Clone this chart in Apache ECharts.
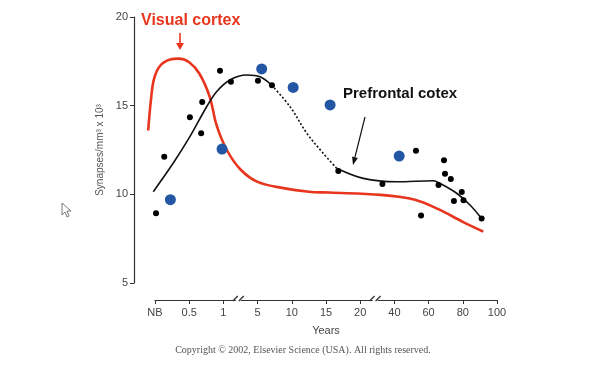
<!DOCTYPE html>
<html>
<head>
<meta charset="utf-8">
<script src="https://cdn.jsdelivr.net/npm/echarts@6/dist/echarts.min.js"></script>
<style>
  html, body { margin: 0; padding: 0; background: #fff; }
  #main { width: 606px; height: 376px; }
</style>
</head>
<body>
<div id="main"></div>
<script>
// x axis is an ordinal age scale, drawn as positions 0..10
var ageLabels = ['NB', '0.5', '1', '5', '10', '15', '20', '40', '60', '80', '100']
var axisBreaks = [2.45, 6.45]

// small black points (prefrontal cortex)
var blackDots = [
  [0.03, 8.93], [0.27, 12.12], [1.02, 14.34], [1.35, 13.44], [1.38, 15.2],
  [1.9, 16.97], [2.22, 16.35], [3.01, 16.41], [3.42, 16.15],
  [5.36, 11.31], [6.65, 10.58], [7.63, 12.46], [8.45, 11.92], [8.48, 11.16],
  [8.65, 10.86], [8.29, 10.52], [8.97, 10.13], [8.74, 9.62], [9.02, 9.66],
  [7.78, 8.8], [9.55, 8.64]
]
// large blue points (visual cortex)
var blueDots = [
  [0.45, 9.7], [1.96, 12.55], [3.12, 17.07], [4.04, 16.03], [5.12, 15.04], [7.14, 12.16]
]
var visualCortex = [
  [-0.2, 13.6], [-0.12, 15.3], [-0.03, 16.5], [0.15, 17.25], [0.44, 17.6],
  [0.7, 17.65], [1.0, 17.45], [1.3, 16.8], [1.6, 15.5], [1.8, 13.9],
  [2.1, 12.5], [2.5, 11.4], [3.0, 10.7], [3.75, 10.35], [4.5, 10.15],
  [5.1, 10.1], [6.6, 9.97], [7.6, 9.7], [8.3, 9.15], [9.0, 8.45], [9.6, 7.9]
]
var prefrontalEarly = [
  [-0.05, 10.15], [0.54, 11.78], [1.02, 13.25], [1.51, 14.94], [1.8, 15.79],
  [2.19, 16.45], [2.68, 16.73], [3.07, 16.63], [3.41, 16.16]
]
var prefrontalGap = [
  [3.41, 16.16], [3.95, 14.94], [4.44, 13.44], [4.92, 12.31], [5.31, 11.47]
]
var prefrontalLate = [
  [5.31, 11.47], [6.09, 10.9], [7.07, 10.71], [8.14, 10.77], [8.33, 10.62],
  [8.82, 10.06], [9.21, 9.4], [9.55, 8.64]
]

var font = 'Liberation Sans, Arial, sans-serif'
var myChart = echarts.init(document.getElementById('main'))

// grid 1 is the same plot widened to the y axis line, so curves may start left of NB
function lineSeries(data, color, width, type) {
  return {
    type: 'line',
    xAxisIndex: 1,
    yAxisIndex: 1,
    data: data,
    smooth: 0.35,
    showSymbol: false,
    silent: true,
    clip: false,
    lineStyle: { color: color, width: width, type: type || 'solid' },
    z: 2
  }
}

myChart.setOption({
  animation: false,
  grid: [
    { left: 155, right: 109, top: 17, bottom: 93 },
    { left: 134, right: 109, top: 17, bottom: 93 }
  ],
  xAxis: [{
    type: 'value',
    gridIndex: 0,
    min: 0,
    max: 10,
    interval: 1,
    offset: 17,
    name: 'Years',
    nameLocation: 'middle',
    nameGap: 25,
    nameTextStyle: { color: '#444', fontSize: 11, fontFamily: font },
    axisLine: { onZero: false, lineStyle: { color: '#333', width: 1.2 } },
    axisTick: { length: 4, lineStyle: { color: '#333' } },
    axisLabel: {
      color: '#444', fontSize: 11, fontFamily: font, margin: 7,
      formatter: function (v) { return ageLabels[Math.round(v)] }
    },
    splitLine: { show: false }
  }, {
    type: 'value',
    gridIndex: 1,
    min: -21 / 34.2,
    max: 10,
    show: false
  }],
  yAxis: [{
    type: 'value',
    gridIndex: 0,
    min: 5,
    max: 20,
    interval: 5,
    offset: 21,
    name: 'Synapses/mm\u00b3 x 10\u00b3',
    nameLocation: 'middle',
    nameGap: 28,
    nameTextStyle: { color: '#555', fontSize: 10, fontFamily: font },
    axisLine: { show: true, onZero: false, lineStyle: { color: '#333', width: 1.2 } },
    axisTick: { show: true, length: 4, lineStyle: { color: '#333' } },
    axisLabel: { color: '#444', fontSize: 11, fontFamily: font, margin: 6 },
    splitLine: { show: false }
  }, {
    type: 'value',
    gridIndex: 1,
    min: 5,
    max: 20,
    show: false
  }],
  series: [
    lineSeries(visualCortex, '#e8361e', 2.6),
    lineSeries(prefrontalEarly, '#111', 1.6),
    lineSeries(prefrontalGap, '#111', 1.6, [2, 2]),
    lineSeries(prefrontalLate, '#111', 1.6),
    {
      type: 'scatter',
      data: blueDots,
      symbolSize: 11,
      itemStyle: { color: '#2456a6', opacity: 1 },
      z: 3
    },
    {
      type: 'scatter',
      data: blackDots,
      symbolSize: 6,
      itemStyle: { color: '#000', opacity: 1 },
      z: 4
    }
  ]
})

// annotations, axis break marks and copyright line
var gfx = [
  { type: 'text', left: 141, top: 13,
    style: { text: 'Visual cortex', fill: '#e8361e', font: 'bold 16px ' + font } },
  { type: 'line', shape: { x1: 180, y1: 33, x2: 180, y2: 44 },
    style: { stroke: '#e8361e', lineWidth: 1.6 } },
  { type: 'polygon', shape: { points: [[176, 43], [184, 43], [180, 50]] },
    style: { fill: '#e8361e' } },
  { type: 'text', left: 343, top: 86,
    style: { text: 'Prefrontal cotex', fill: '#111', font: 'bold 15px ' + font } },
  { type: 'line', shape: { x1: 365, y1: 117, x2: 355, y2: 157 },
    style: { stroke: '#111', lineWidth: 1.2 } },
  { type: 'polygon', shape: { points: [[357.9, 158], [352.1, 156.5], [353, 165]] },
    style: { fill: '#111' } },
  { type: 'text', left: 'center', top: 345,
    style: { text: 'Copyright \u00a9 2002, Elsevier Science (USA). All rights reserved.',
      fill: '#555', font: '10px Liberation Serif, Times New Roman, serif' } },
  // mouse pointer left on the slide
  { type: 'polygon', shape: { points: [[62, 203], [62, 215], [65, 212], [67, 217], [69, 216], [67, 211], [71, 211]] },
    style: { fill: '#fff', stroke: '#777', lineWidth: 1 } }
]
axisBreaks.forEach(function (b) {
  var px = myChart.convertToPixel({ xAxisIndex: 0 }, b)
  var py = 299
  gfx.push({ type: 'rect', shape: { x: px - 3, y: py - 2, width: 5, height: 4 }, style: { fill: '#fff' }, z: 10 })
  gfx.push({ type: 'line', shape: { x1: px - 6, y1: py + 2, x2: px - 1, y2: py - 3 }, style: { stroke: '#333', lineWidth: 1.3 }, z: 11 })
  gfx.push({ type: 'line', shape: { x1: px, y1: py + 2, x2: px + 5, y2: py - 3 }, style: { stroke: '#333', lineWidth: 1.3 }, z: 11 })
})
myChart.setOption({ graphic: gfx })
</script>
</body>
</html>
